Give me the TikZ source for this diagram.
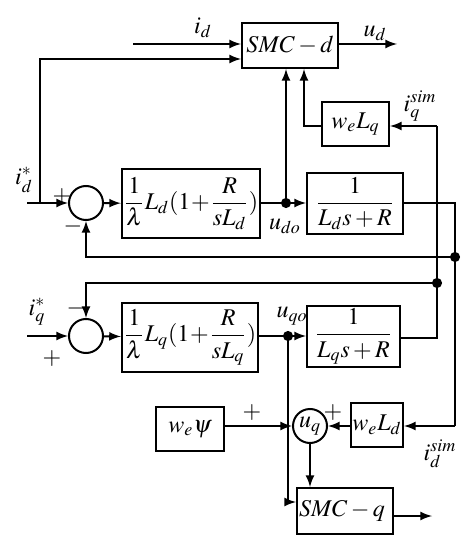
\documentclass[tikz,border=0pt]{standalone}
\usepackage{amsmath}
\usepackage{mathptmx}
\usepackage{tikz}

\tikzset{
  blk/.style={draw, line width=1pt, inner sep=1pt},
  sumc/.style={draw, circle, line width=1pt, minimum size=17pt, inner sep=0pt},
}

\begin{document}
\begin{tikzpicture}[x=0.5pt,y=-0.5pt,>=latex,line width=1pt,font=\fontsize{12}{14}\selectfont]
\useasboundingbox (0,0) rectangle (475,550);

% blocks
\node[blk,minimum width=48pt,minimum height=22.5pt] (smcd) at (290,45.5) {$SMC-d$};
\node[blk,minimum width=33.5pt,minimum height=22pt] (wlq) at (355.5,124) {$w_e L_q$};
\node[sumc] (sumd) at (86,203) {};
\node[blk,minimum width=66pt,minimum height=34.5pt] (ctrld) at (191,203.5) {$\dfrac{1}{\lambda}L_d(1\!+\!\dfrac{R}{sL_d})$};
\node[blk,minimum width=48pt,minimum height=30.5pt] (plantd) at (355,203.5) {$\dfrac{1}{L_d s+R}$};
\node[sumc] (sumq) at (86,336) {};
\node[blk,minimum width=67pt,minimum height=34.5pt] (ctrlq) at (190,337.5) {$\dfrac{1}{\lambda}L_q(1\!+\!\dfrac{R}{sL_q})$};
\node[blk,minimum width=46.5pt,minimum height=29.5pt] (plantq) at (353.5,336.5) {$\dfrac{1}{L_q s+R}$};
\node[blk,minimum width=34pt,minimum height=22pt] (wpsi) at (190,429) {$w_e\psi$};
\node[sumc] (uq) at (310,426) {$u_q$};
\node[blk,minimum width=26pt,minimum height=22pt,inner sep=0pt] (wld) at (377,425) {$w_e L_d$};
\node[blk,minimum width=48pt,minimum height=23pt,text width=46pt,align=left] (smcq) at (345,511) {$SMC-q$};

% junctions and free ends
\coordinate (idin) at (27,203);
\coordinate (idup) at (40,203);
\coordinate (idtop) at (40,59);
\coordinate (idfb) at (133,44);
\coordinate (udout) at (397,44);
\coordinate (jdo) at (286,203);
\coordinate (lqbend) at (304,126);
\coordinate (pdr) at (455,203);
\coordinate (jd) at (455,257);
\coordinate (ldr) at (455,426);
\coordinate (pqr) at (437,338);
\coordinate (jq) at (437,283);
\coordinate (lqr) at (437,126);
\coordinate (iqin) at (27,336);
\coordinate (jqo) at (288,336);
\coordinate (qdown) at (288,502);
\coordinate (uqout) at (432,516);

% d axis
\draw[->] (idfb) -- (idfb -| smcd.west);
\draw[->] (idin) -- (sumd.west);
\draw[->] (idup) -- (idtop) -- (idtop -| smcd.west);
\draw[->] (smcd.east |- udout) -- (udout);
\draw[->] (sumd) -- (ctrld);
\draw[->] (ctrld.east |- jdo) -- (plantd.west |- jdo);
\draw[->] (jdo) -- (jdo |- smcd.south);
\draw[->] (wlq.west |- lqbend) -- (lqbend) -- (lqbend |- smcd.south);
\draw (plantd.east |- pdr) -- (pdr) -- (ldr);
\draw[->] (ldr) -- (ldr -| wld.east);
\draw[->] (jd) -- (jd -| sumd) -- (sumd.south);

% q axis
\draw[->] (iqin) -- (sumq.west);
\draw[->] (sumq) -- (ctrlq);
\draw[->] (ctrlq.east |- jqo) -- (plantq.west |- jqo);
\draw (plantq.east |- pqr) -- (pqr) -- (lqr);
\draw[->] (lqr) -- (wlq.east |- lqr);
\draw[->] (jq) -- (jq -| sumq) -- (sumq.north);
\draw[->] (jqo) -- (qdown) -- (qdown -| smcq.west);
\draw[->] (wpsi.east |- uq) -- (uq.west);
\draw[->] (wld.west |- uq) -- (uq.east);
\draw[->] (uq.south) -- (uq.south |- smcq.north);
\draw[->] (smcq.east |- uqout) -- (uqout);

% dots
\foreach \j in {jdo,jd,jq,jqo}
  \draw[fill=black] (\j) circle (2pt);

% labels
\node at (203,28) {$i_d$};
\node at (375,33) {$u_d$};
\node at (420,106) {$i_q^{sim}$};
\node at (24,180) {$i_d^*$};
\node at (62,197) {$+$};
\node at (73,227) {$-$};
\node at (285,226) {$u_{do}$};
\node at (37,312) {$i_q^*$};
\node at (76,308) {$-$};
\node at (52,359) {$+$};
\node at (292,316) {$u_{qo}$};
\node at (252,413) {$+$};
\node at (333,413) {$+$};
\node at (440,454) {$i_d^{sim}$};
\end{tikzpicture}
\end{document}
